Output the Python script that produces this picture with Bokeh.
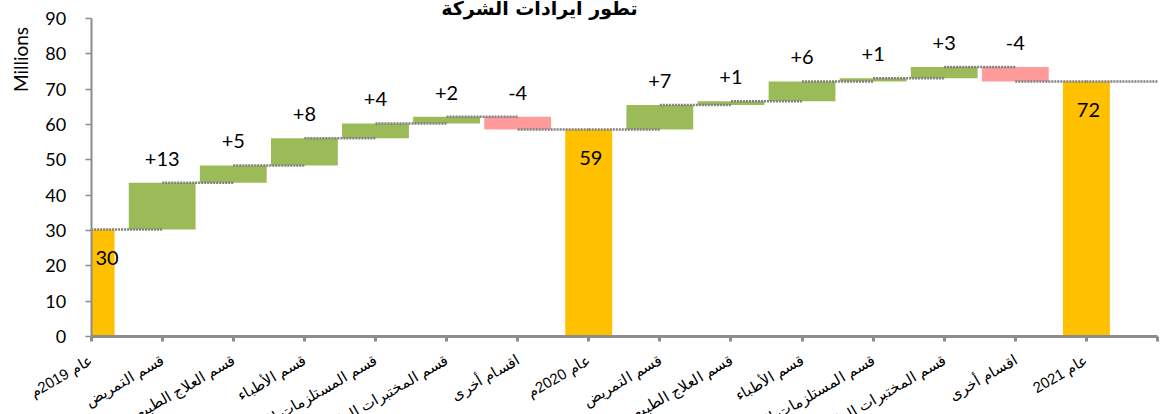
import math
from bokeh.plotting import figure
from bokeh.models import Range1d, FixedTicker
from bokeh.core.properties import value
from bokeh.embed import file_html
from bokeh.resources import INLINE

# ---------------- data ----------------
categories = [
    "عام 2019م",
    "قسم التمريض", "قسم العلاج الطبيعي", "قسم الأطباء",
    "قسم المستلزمات الطبية", "قسم المختبرات الطبية", "اقسام أخرى",
    "عام 2020م",
    "قسم التمريض", "قسم العلاج الطبيعي", "قسم الأطباء",
    "قسم المستلزمات الطبية", "قسم المختبرات الطبية", "اقسام أخرى",
    "عام 2021",
]
total_2019 = 30.3
changes_2020 = [13.2, 4.9, 7.7, 4.2, 1.9, -3.6]
total_2020 = 58.6
changes_2021 = [6.9, 1.1, 5.6, 0.9, 3.2, -4.1]
total_2021 = 72.2
title_text = "تطور ايرادات الشركة"
y_title = "Millions"
y_ticks = [0, 10, 20, 30, 40, 50, 60, 70, 80, 90]
y_max = 90

# ---------------- layout (pixels) ----------------
W, H = 1160, 414
AX_LEFT = 90.6      # x pixel of the value axis
AX_BOTTOM = 336.0   # y pixel of the category axis
PLOT_TOP = 18.0     # y pixel of the top tick
N_SLOTS = len(categories)  # categories sit on ticks 0..14, axis runs to 15
px_x = (W - 3 - AX_LEFT) / N_SLOTS
px_y = (AX_BOTTOM - PLOT_TOP) / y_max

# ---------------- waterfall geometry from data ----------------
tot_x, tot_top = [], []
chg_x, chg_bot, chg_top, chg_col, chg_lbl = [], [], [], [], []
levels = []
k = 0
for total, changes in [(total_2019, changes_2020), (total_2020, changes_2021), (total_2021, [])]:
    tot_x.append(k)
    tot_top.append(total)
    levels.append(total)
    k += 1
    run = total
    for c in changes:
        start, end = run, run + c
        chg_x.append(k)
        chg_bot.append(min(start, end))
        chg_top.append(max(start, end))
        chg_col.append("#9BBB59" if c >= 0 else "#FF9B9B")
        chg_lbl.append("{:+.0f}".format(c))
        levels.append(end)
        run = end
        k += 1

GREY = "#8C8C8C"

p = figure(width=W, height=H, output_backend="svg", toolbar_location=None,
           x_range=Range1d(-AX_LEFT / px_x, (W - AX_LEFT) / px_x),
           y_range=Range1d(-(H - AX_BOTTOM) / px_y, AX_BOTTOM / px_y),
           min_border=0)
p.outline_line_color = None
p.xgrid.visible = False
p.ygrid.visible = False
p.background_fill_color = "white"
p.border_fill_color = "white"

# bars
chg_w = 0.94
tot_w = 0.66
p.quad(left=[x - chg_w / 2 for x in chg_x], right=[x + chg_w / 2 for x in chg_x],
       bottom=chg_bot, top=chg_top, fill_color=chg_col, line_color=None)
p.quad(left=[max(x - tot_w / 2, 0) for x in tot_x], right=[x + tot_w / 2 for x in tot_x],
       bottom=0, top=tot_top, fill_color="#FFC000", line_color=None)

# connectors
seg_x0 = list(range(len(levels)))
seg_x1 = [x + 1 for x in seg_x0]
p.segment(x0=seg_x0, x1=seg_x1, y0=levels, y1=levels, line_color="#808080",
          line_width=2.5, line_dash="2 1")

# data labels
p.text(x=chg_x, y=chg_top, text=chg_lbl, text_font=value("Lato"),
       text_font_size="20px", text_align="center", text_baseline="middle",
       y_offset=-24, text_color="#000000")
p.text(x=tot_x, y=tot_top, text=["{:.0f}".format(v) for v in tot_top],
       text_font=value("Lato"), text_font_size="20px", text_align="center",
       text_baseline="middle", x_offset=[16 if x == 0 else 2 for x in tot_x],
       y_offset=28.5, text_color="#000000")

# value axis
yax = p.yaxis[0]
yax.fixed_location = 0
yax.bounds = (0, y_max)
yax.ticker = FixedTicker(ticks=y_ticks)
yax.axis_line_color = GREY
yax.axis_line_width = 2
yax.major_tick_line_color = GREY
yax.major_tick_line_width = 1.5
yax.major_tick_out = 6
yax.major_tick_in = 0
yax.minor_tick_line_color = None
yax.major_label_text_font = "Lato"
yax.major_label_text_font_size = "18px"
yax.major_label_text_color = "#000000"
yax.major_label_standoff = 19

# category axis
xax = p.xaxis[0]
xax.fixed_location = 0
xax.bounds = (0, N_SLOTS)
xax.ticker = FixedTicker(ticks=list(range(N_SLOTS + 1)))
overrides = {i: name for i, name in enumerate(categories)}
overrides[N_SLOTS] = " "
xax.major_label_overrides = overrides
xax.major_label_orientation = math.pi / 6
xax.axis_line_color = GREY
xax.axis_line_width = 3
xax.major_tick_line_color = GREY
xax.major_tick_line_width = 3
xax.major_tick_out = 5
xax.major_tick_in = 0
xax.minor_tick_line_color = None
xax.major_label_text_font = "Liberation Sans"
xax.major_label_text_font_size = "15px"
xax.major_label_text_color = "#000000"
xax.major_label_standoff = 17

# title and unit label
p.text(x=[(539 - AX_LEFT) / px_x], y=[(AX_BOTTOM - 7) / px_y], text=[title_text],
       text_font=value("DejaVu Sans"), text_font_style="bold", text_font_size="19px",
       text_align="center", text_baseline="alphabetic", text_color="#000000")
p.text(x=[(19.5 - AX_LEFT) / px_x], y=[(AX_BOTTOM - 59) / px_y], text=[y_title],
       text_font=value("Lato"), text_font_size="19px", angle=math.pi / 2,
       text_align="center", text_baseline="middle", text_color="#000000")

open("out.html", "w").write(file_html(p, INLINE))
